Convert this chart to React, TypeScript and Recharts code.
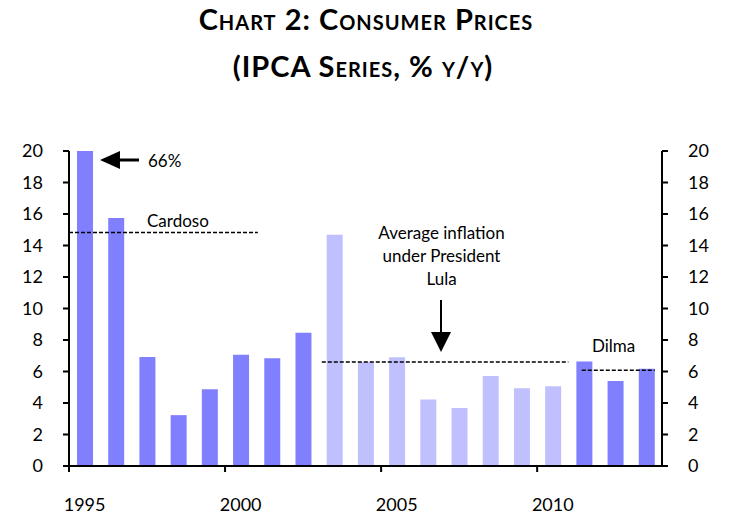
import React from "react";
import { ComposedChart, Bar, Cell, XAxis, YAxis, ReferenceLine } from "recharts";

const years = [1995, 1996, 1997, 1998, 1999, 2000, 2001, 2002, 2003, 2004, 2005, 2006, 2007, 2008, 2009, 2010, 2011, 2012, 2013];
const inflation = [66, 15.74, 6.92, 3.23, 4.87, 7.07, 6.84, 8.46, 14.68, 6.6, 6.9, 4.22, 3.69, 5.72, 4.94, 5.06, 6.64, 5.4, 6.18];
const president = ["Cardoso", "Cardoso", "Cardoso", "Cardoso", "Cardoso", "Cardoso", "Cardoso", "Cardoso", "Lula", "Lula", "Lula", "Lula", "Lula", "Lula", "Lula", "Lula", "Dilma", "Dilma", "Dilma"];
const yearTicks = [1995, 2000, 2005, 2010];
const valueTicks = [0, 2, 4, 6, 8, 10, 12, 14, 16, 18, 20];

// average inflation segments: [start, end, value]
const cardosoAvg = { from: 1994.5, to: 2000.55, value: 14.83 };
const lulaAvg = { from: 2002.6, to: 2010.5, value: 6.6 };
const dilmaAvg = { from: 2010.93, to: 2013.27, value: 6.08 };

const colorFor: Record<string, string> = { Cardoso: "#8080ff", Lula: "#c0c0ff", Dilma: "#8080ff" };

const data = years.map((y, i) => ({ year: y, value: inflation[i], president: president[i] }));

const FONT = "Lato, 'Open Sans', sans-serif";

const XTick = (props: any) => {
  const { x, y, payload } = props;
  const w = typeof props.width === "number" && props.width > 0 ? props.width : 593;
  const half = w / years.length / 2;
  return (
    <g>
      <line x1={x - half} x2={x - half} y1={y} y2={y + 6} stroke="#000" strokeWidth={2} />
      <text x={x} y={y + 45} textAnchor="middle" fontSize={18} fontFamily={FONT} fill="#000">
        {payload.value}
      </text>
    </g>
  );
};

export default function App() {
  return (
    <div style={{ position: "absolute", left: 0, top: 0, width: 736, height: 532, background: "#fff" }}>
      <ComposedChart width={736} height={532} data={data} margin={{ top: 151, right: 0, bottom: 0, left: 0 }}>
        <XAxis
          dataKey="year"
          type="number"
          domain={[1994.5, 2013.5]}
          ticks={yearTicks}
          tickSize={0}
          tickMargin={0}
          tickLine={false}
          tick={<XTick />}
          height={66}
          axisLine={{ stroke: "#000", strokeWidth: 2 }}
          interval={0}
        />
        <YAxis
          yAxisId="l"
          orientation="left"
          domain={[0, 20]}
          allowDataOverflow
          ticks={valueTicks}
          width={69}
          tickSize={6}
          tickMargin={20}
          axisLine={{ stroke: "#000", strokeWidth: 2 }}
          tickLine={{ stroke: "#000", strokeWidth: 2 }}
          tick={{ fill: "#000", fontSize: 18, fontFamily: FONT }}
          interval={0}
        />
        <YAxis
          yAxisId="r"
          orientation="right"
          domain={[0, 20]}
          allowDataOverflow
          ticks={valueTicks}
          width={74}
          tickSize={6}
          tickMargin={20}
          axisLine={{ stroke: "#000", strokeWidth: 2 }}
          tickLine={{ stroke: "#000", strokeWidth: 2 }}
          tick={{ fill: "#000", fontSize: 18, fontFamily: FONT, textAnchor: "start" }}
          interval={0}
        />
        <Bar dataKey="value" yAxisId="l" barSize={16} isAnimationActive={false}>
          {data.map((d, i) => (
            <Cell key={i} fill={colorFor[d.president]} />
          ))}
        </Bar>
        {[cardosoAvg, lulaAvg, dilmaAvg].map((s, i) => (
          <ReferenceLine
            key={i}
            yAxisId="l"
            segment={[{ x: s.from, y: s.value }, { x: s.to, y: s.value }]}
            stroke="#000"
            strokeWidth={1.5}
            strokeDasharray="4 2"
            ifOverflow="visible"
          />
        ))}
      </ComposedChart>
      <svg width={736} height={532} style={{ position: "absolute", left: 0, top: 0, pointerEvents: "none" }}>
        <text x={366} y={30} textAnchor="middle" fontSize={29} fontWeight="bold" fontFamily={FONT} letterSpacing={1} style={{ fontVariant: "small-caps" }} fill="#000">
          Chart 2: Consumer Prices
        </text>
        <text x={363} y={77} textAnchor="middle" fontSize={29} fontWeight="bold" fontFamily={FONT} letterSpacing={1} style={{ fontVariant: "small-caps" }} fill="#000">
          (IPCA Series, % y/y)
        </text>
        <line x1={116} x2={139} y1={160} y2={160} stroke="#000" strokeWidth={3} />
        <polygon points="100,160 120,151 120,169" fill="#000" />
        <text x={148} y={167} fontSize={17} fontFamily={FONT} fill="#000">66%</text>
        <text x={147} y={227} fontSize={17} fontFamily={FONT} fill="#000">Cardoso</text>
        <text x={592} y={352} fontSize={17} fontFamily={FONT} fill="#000">Dilma</text>
        <text x={441.5} y={239} textAnchor="middle" fontSize={17} fontFamily={FONT} fill="#000">Average inflation</text>
        <text x={441.5} y={262} textAnchor="middle" fontSize={17} fontFamily={FONT} fill="#000">under President</text>
        <text x={441.5} y={285} textAnchor="middle" fontSize={17} fontFamily={FONT} fill="#000">Lula</text>
        <line x1={441} x2={441} y1={300} y2={336} stroke="#000" strokeWidth={2} />
        <polygon points="431,332 451,332 441,352" fill="#000" />
      </svg>
    </div>
  );
}
